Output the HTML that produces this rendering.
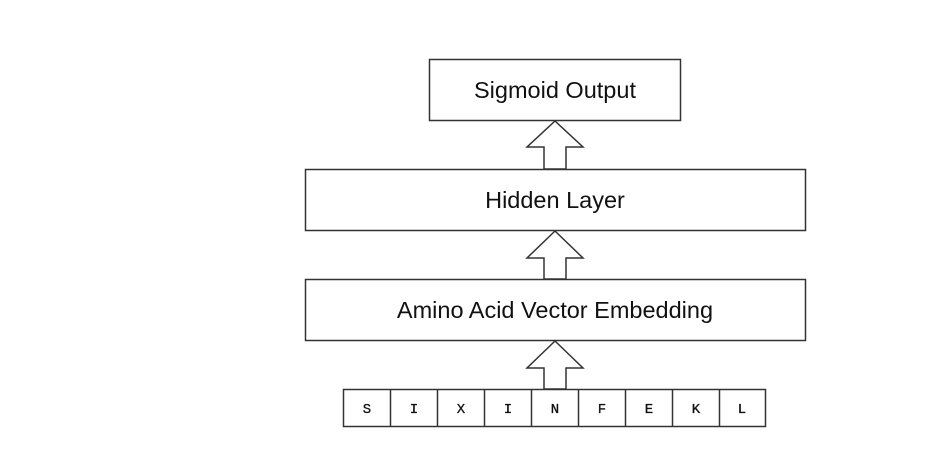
<!DOCTYPE html>
<html><head><style>body{margin:0;background:#fff}</style></head><body>
<svg width="927" height="446" xmlns="http://www.w3.org/2000/svg">
<g fill="#fff" stroke="#333" stroke-width="1.5">
<rect x="429.5" y="59.5" width="251" height="61"/>
<rect x="305.5" y="169.5" width="500" height="61"/>
<rect x="305.5" y="279.5" width="500" height="61"/>
<polygon points="555,121 583,147 566,147 566,169 544,169 544,147 527,147"/>
<polygon points="555,231 583,258 566,258 566,279 544,279 544,258 527,258"/>
<polygon points="555,341 583,368 566,368 566,389 544,389 544,368 527,368"/>
<rect x="343.5" y="389.5" width="422" height="37"/>
</g>
<g stroke="#333" stroke-width="1.5">
<line x1="390.5" y1="389" x2="390.5" y2="427"/><line x1="437.5" y1="389" x2="437.5" y2="427"/>
<line x1="484.5" y1="389" x2="484.5" y2="427"/><line x1="531.5" y1="389" x2="531.5" y2="427"/>
<line x1="578.5" y1="389" x2="578.5" y2="427"/><line x1="625.5" y1="389" x2="625.5" y2="427"/>
<line x1="672.5" y1="389" x2="672.5" y2="427"/><line x1="719.5" y1="389" x2="719.5" y2="427"/>
</g>
<g font-family="Liberation Sans, sans-serif" font-size="23.5" text-anchor="middle" fill="#111">
<text x="555" y="98">Sigmoid Output</text>
<text x="555" y="208">Hidden Layer</text>
<text x="555" y="318">Amino Acid Vector Embedding</text>
</g>
<g font-family="Liberation Mono, monospace" font-size="14" text-anchor="middle" fill="#111" stroke="#111" stroke-width="0.3">
<text x="367" y="413">S</text><text x="414" y="413">I</text><text x="461" y="413">X</text>
<text x="508" y="413">I</text><text x="555" y="413">N</text><text x="602" y="413">F</text>
<text x="649" y="413">E</text><text x="696" y="413">K</text><text x="742" y="413">L</text>
</g>
</svg>
</body></html>
